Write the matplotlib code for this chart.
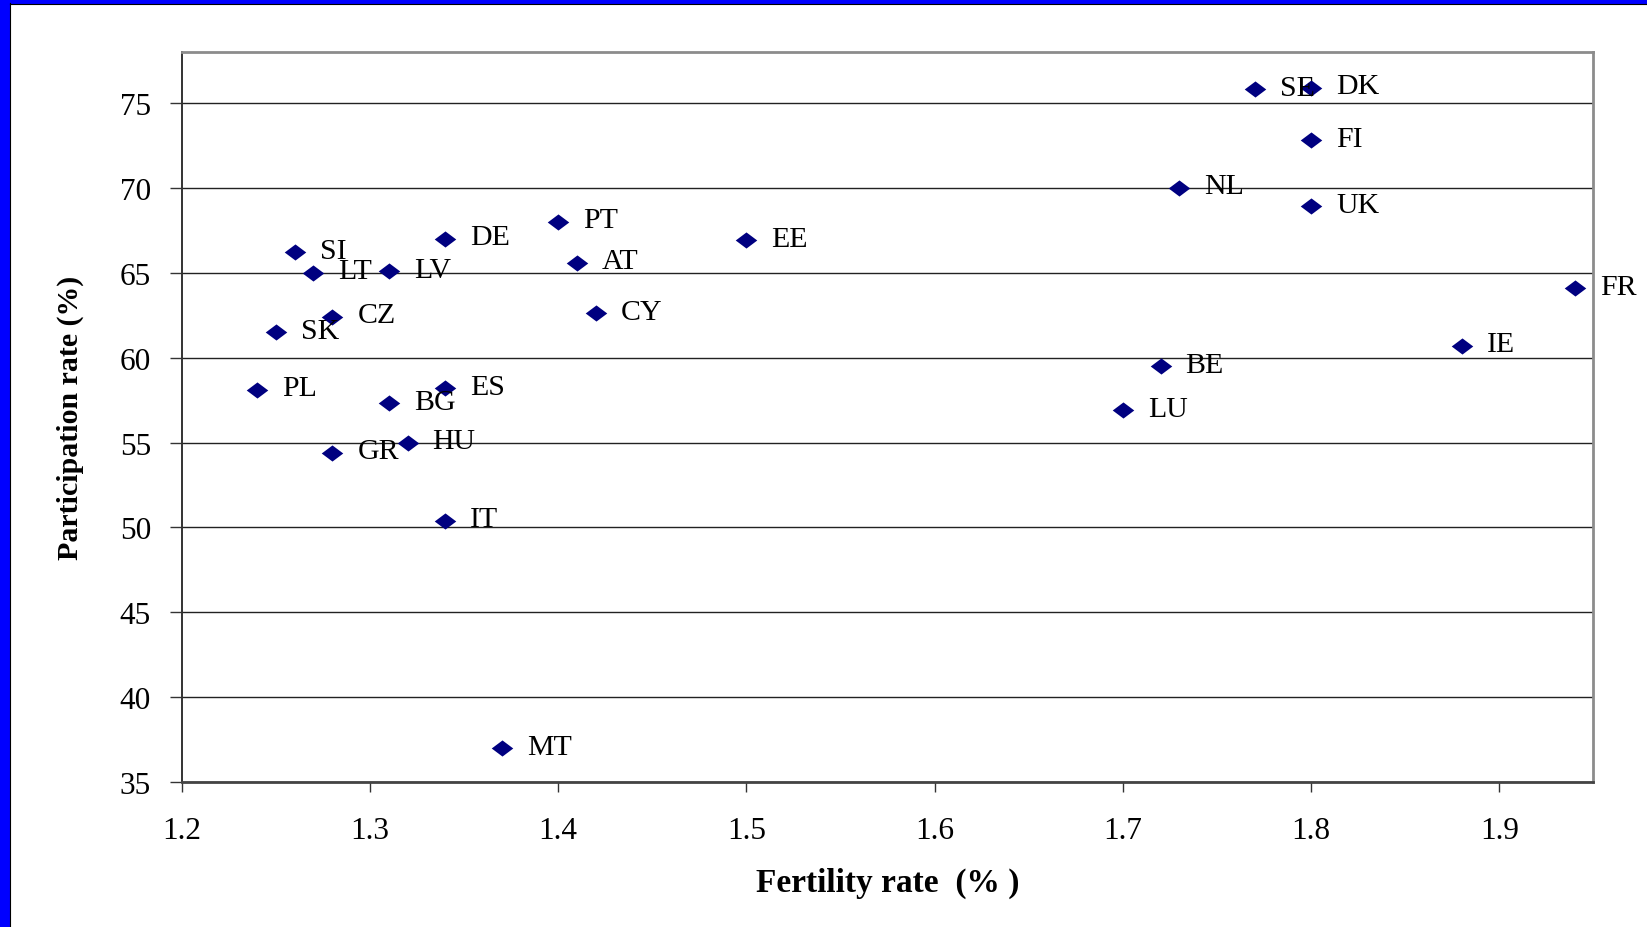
import matplotlib
matplotlib.use("Agg")
import matplotlib.pyplot as plt
from matplotlib.patches import Rectangle
from matplotlib.lines import Line2D

COUNTRIES = ["SI", "LT", "LV", "DE", "PT", "AT", "EE", "CZ", "SK", "CY",
             "PL", "ES", "BG", "HU", "GR", "IT", "MT", "SE", "DK", "FI",
             "NL", "UK", "FR", "IE", "BE", "LU"]
FERTILITY = [1.26, 1.27, 1.31, 1.34, 1.40, 1.41, 1.50, 1.28, 1.25, 1.42,
             1.24, 1.34, 1.31, 1.32, 1.28, 1.34, 1.37, 1.77, 1.80, 1.80,
             1.73, 1.80, 1.94, 1.88, 1.72, 1.70]
PARTICIPATION = [66.2, 65.0, 65.1, 67.0, 68.0, 65.6, 66.9, 62.4, 61.5, 62.6,
                 58.1, 58.2, 57.3, 55.0, 54.4, 50.4, 37.0, 75.8, 75.9, 72.8,
                 70.0, 68.9, 64.1, 60.7, 59.5, 56.9]

X_TICKS = [1.2, 1.3, 1.4, 1.5, 1.6, 1.7, 1.8, 1.9]
Y_TICKS = [35, 40, 45, 50, 55, 60, 65, 70, 75]

HORIZONTAL_TITLE = "Fertility rate  (% )"
VERTICAL_TITLE = "Participation rate (%)"

FONT = "Liberation Serif"
NAVY = "#000080"
W, H = 1647, 928

plt.rcParams["font.family"] = [FONT, "DejaVu Serif"]

fig = plt.figure(figsize=(W / 100, H / 100), dpi=100)
ax = fig.add_axes([0.1103, 0.156, 0.9675 - 0.1103, 0.943 - 0.156])

diamond = [(-1, 0), (0, 0.75), (1, 0), (0, -0.75), (-1, 0)]
ax.scatter(FERTILITY, PARTICIPATION, marker=diamond, s=15.5 ** 2,
           color=NAVY, zorder=3, linewidths=0)

for name, x, y in zip(COUNTRIES, FERTILITY, PARTICIPATION):
    ax.annotate(name, (x, y), xytext=(18, 1), textcoords="offset points",
                ha="left", va="center", fontsize=21.5, color="black",
                annotation_clip=False, zorder=4)

ax.set_xlim(1.2, 1.95)
ax.set_ylim(35, 78)
ax.set_xticks(X_TICKS)
ax.set_yticks(Y_TICKS)
ax.set_xticklabels([f"{v:.1f}" for v in X_TICKS])
ax.set_yticklabels([str(v) for v in Y_TICKS])
ax.yaxis.grid(True, color="#222222", lw=1.0)
ax.set_axisbelow(True)

ax.tick_params(axis="y", direction="out", length=9, width=1, pad=13,
               labelsize=22.5, color="#333333")
ax.tick_params(axis="x", direction="out", length=7, width=1, pad=17,
               labelsize=22.5, color="#333333")

ax.spines["left"].set_color("#333333")
ax.spines["left"].set_linewidth(1.4)
ax.spines["bottom"].set_color("#444444")
ax.spines["bottom"].set_linewidth(2)
for side in ("top", "right"):
    ax.spines[side].set_color("#8c8c8c")
    ax.spines[side].set_linewidth(2)

ax.set_xlabel(HORIZONTAL_TITLE, fontsize=24, fontweight="bold", labelpad=16)
ax.set_ylabel(VERTICAL_TITLE, fontsize=21.5, fontweight="bold", labelpad=26)

# blue frame of the slide
fig.patches.append(Rectangle((0, 0), 9 / W, 1, transform=fig.transFigure,
                             color="#0000ff", zorder=0))
fig.patches.append(Rectangle((0, 1 - 4 / H), 1, 4 / H, transform=fig.transFigure,
                             color="#0000ff", zorder=0))
fig.lines.append(Line2D([9.5 / W, 9.5 / W], [0, 1 - 4 / H], transform=fig.transFigure,
                        color="black", lw=0.8))
fig.lines.append(Line2D([9.5 / W, 1], [1 - 4.5 / H, 1 - 4.5 / H], transform=fig.transFigure,
                        color="black", lw=0.8))

fig.savefig("out.png", dpi=100)
